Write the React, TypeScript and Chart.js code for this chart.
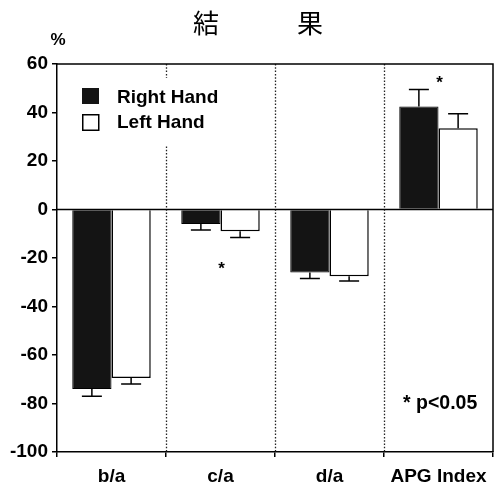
import { useEffect, useRef } from "react";
import { Chart, registerables } from "chart.js";

Chart.register(...registerables);

// ---- data ----
const categories = ["b/a", "c/a", "d/a", "APG Index"];
const seriesNames = ["Right Hand", "Left Hand"];
const rightHand = [-74, -6, -26, 42.5];
const rightHandErr = [3, 2.5, 2.5, 7];
const leftHand = [-69.5, -9, -27.5, 33.5];
const leftHandErr = [2.5, 2.5, 2, 6];
const sigCategoryIndex = [3, 1];
const sigMarkValue = [54, -23];
const yMin = -100;
const yMax = 60;
const yStep = 20;
const titleText = "結　　　果";
const unitText = "%";
const noteText = "* p<0.05";

const FONT = '"Liberation Sans", Arial, Helvetica, sans-serif';
const DARK = "#141414";

const overlayPlugin = {
  id: "overlay",
  beforeDatasetsDraw(chart: any) {
    const { ctx, chartArea: a, scales } = chart;
    const x = scales.x;
    ctx.save();
    ctx.strokeStyle = "#222";
    ctx.lineWidth = 1.3;
    ctx.setLineDash([1.5, 1.8]);
    for (let i = 0; i < categories.length - 1; i++) {
      const px = Math.round((x.getPixelForValue(i) + x.getPixelForValue(i + 1)) / 2) + 0.5;
      ctx.beginPath();
      ctx.moveTo(px, a.top);
      ctx.lineTo(px, a.bottom);
      ctx.stroke();
    }
    ctx.restore();
  },
  afterDatasetsDraw(chart: any) {
    const { ctx, chartArea: a, scales } = chart;
    const y = scales.y;
    const x = scales.x;
    const errs = [rightHandErr, leftHandErr];
    ctx.save();
    // error bars
    ctx.strokeStyle = "#000";
    ctx.lineWidth = 1.5;
    ctx.setLineDash([]);
    chart.data.datasets.forEach((ds: any, d: number) => {
      const meta = chart.getDatasetMeta(d);
      meta.data.forEach((el: any, i: number) => {
        const v = ds.data[i];
        const e = errs[d][i];
        const end = y.getPixelForValue(v + Math.sign(v) * e);
        ctx.beginPath();
        ctx.moveTo(el.x, el.y);
        ctx.lineTo(el.x, end);
        ctx.moveTo(el.x - 10, end);
        ctx.lineTo(el.x + 10, end);
        ctx.stroke();
      });
    });
    // zero line
    const y0 = y.getPixelForValue(0);
    ctx.lineWidth = 1.5;
    ctx.beginPath();
    ctx.moveTo(a.left, y0);
    ctx.lineTo(a.right, y0);
    ctx.stroke();
    // frame top and right
    ctx.beginPath();
    ctx.moveTo(a.left, a.top);
    ctx.lineTo(a.right, a.top);
    ctx.lineTo(a.right, a.bottom);
    ctx.stroke();
    // significance marks
    ctx.fillStyle = "#000";
    ctx.font = `bold 17px ${FONT}`;
    ctx.textAlign = "center";
    ctx.textBaseline = "alphabetic";
    sigCategoryIndex.forEach((ci, k) => {
      ctx.fillText("*", x.getPixelForValue(ci) + 1, y.getPixelForValue(sigMarkValue[k]) + 9);
    });
    // legend
    ctx.fillStyle = "#fff";
    ctx.fillRect(a.left + 18, a.top + 14, 165, 68);
    ctx.fillStyle = DARK;
    ctx.fillRect(82, 88, 17, 16);
    ctx.strokeStyle = "#000";
    ctx.lineWidth = 1.5;
    ctx.strokeRect(82.75, 114.75, 16, 15.5);
    ctx.fillStyle = "#000";
    ctx.font = `bold 19px ${FONT}`;
    ctx.textAlign = "left";
    ctx.fillText(seriesNames[0], 117, 103);
    ctx.fillText(seriesNames[1], 117, 128);
    // note
    ctx.font = `bold 19.5px ${FONT}`;
    ctx.fillText(noteText, 403, 409);
    // unit
    ctx.font = `bold 17px ${FONT}`;
    ctx.textAlign = "center";
    ctx.fillText(unitText, 58, 45);
    // title
    ctx.font = `26px "Noto Sans CJK JP", sans-serif`;
    ctx.fillText(titleText, 258, 33);
    ctx.restore();
  },
};

export default function App() {
  const ref = useRef<HTMLCanvasElement | null>(null);
  useEffect(() => {
    if (!ref.current) return;
    const chart = new Chart(ref.current, {
      type: "bar",
      data: {
        labels: categories,
        datasets: [
          {
            label: seriesNames[0],
            data: rightHand,
            backgroundColor: DARK,
            borderColor: "#000",
            borderWidth: 1,
            categoryPercentage: 0.72,
            barPercentage: 1,
          },
          {
            label: seriesNames[1],
            data: leftHand,
            backgroundColor: "#fff",
            borderColor: "#000",
            borderWidth: 1.5,
            categoryPercentage: 0.72,
            barPercentage: 1,
          },
        ],
      },
      options: {
        responsive: false,
        animation: false,
        layout: { padding: { top: 64, right: 7, bottom: 0, left: 0 } },
        plugins: {
          legend: { display: false },
          title: { display: false },
          tooltip: { enabled: false },
        },
        scales: {
          x: {
            offset: true,
            grid: {
              offset: true,
              drawOnChartArea: false,
              drawTicks: true,
              tickLength: 5,
              color: "#000",
              lineWidth: 1.5,
            },
            border: { display: true, color: "#000", width: 1.5 },
            ticks: {
              color: "#000",
              padding: 8,
              font: { family: FONT, size: 19, weight: "bold" },
            },
            afterFit: (s: any) => {
              s.height = 32;
            },
          },
          y: {
            min: yMin,
            max: yMax,
            grid: {
              drawOnChartArea: false,
              drawTicks: true,
              tickLength: 5,
              color: "#000",
              lineWidth: 1.5,
            },
            border: { display: true, color: "#000", width: 1.5 },
            ticks: {
              stepSize: yStep,
              color: "#000",
              padding: 4,
              font: { family: FONT, size: 19, weight: "bold" },
            },
            afterFit: (s: any) => {
              s.width = 57;
            },
          },
        },
      },
      plugins: [overlayPlugin],
    });
    return () => chart.destroy();
  }, []);
  return (
    <div style={{ position: "absolute", left: 0, top: 0, width: 500, height: 484, background: "#fff" }}>
      <canvas ref={ref} width={500} height={484} style={{ display: "block" }} />
    </div>
  );
}
